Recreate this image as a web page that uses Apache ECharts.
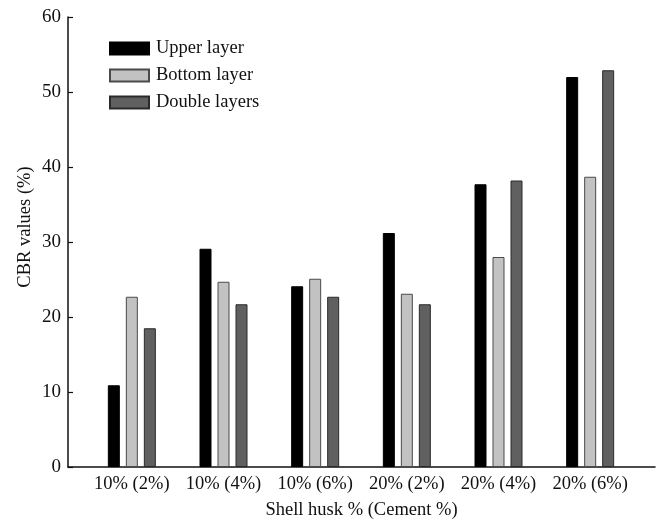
<!DOCTYPE html>
<html>
<head>
<meta charset="utf-8">
<script src="https://cdn.jsdelivr.net/npm/echarts@6/dist/echarts.min.js"></script>
<style>html,body{margin:0;padding:0;background:#fff}#chart{width:657px;height:520px}</style>
</head>
<body>
<div id="chart"></div>
<script>
var categories = ['10% (2%)', '10% (4%)', '10% (6%)', '20% (2%)', '20% (4%)', '20% (6%)'];
var seriesNames = ['Upper layer', 'Bottom layer', 'Double layers'];
var upperLayer = [10.9, 29.1, 24.1, 31.2, 37.7, 52.0];
var bottomLayer = [22.7, 24.7, 25.1, 23.1, 28.0, 38.7];
var doubleLayers = [18.5, 21.7, 22.7, 21.7, 38.2, 52.9];
var yTicks = [0, 10, 20, 30, 40, 50, 60];

var FONT = '"Liberation Serif", "DejaVu Serif", serif';
var chart = echarts.init(document.getElementById('chart'), null, {renderer: 'canvas'});
function barSeries(name, data, color, border) {
  return {
    name: name, type: 'bar', xAxisIndex: 1, yAxisIndex: 1,
    data: data, barWidth: 12, barGap: '50%',
    itemStyle: {color: color, borderColor: border, borderWidth: 1}
  };
}
chart.setOption({
  animation: false,
  backgroundColor: '#fff',
  textStyle: {fontFamily: FONT},
  grid: [
    {left: 68, right: 2, top: 17, bottom: 53, containLabel: false, outerBoundsMode: 'none'},
    {left: 86, right: 21, top: 17, bottom: 53, containLabel: false, outerBoundsMode: 'none'}
  ],
  legend: {
    orient: 'vertical', left: 109, top: 39, padding: 0,
    itemWidth: 39, itemHeight: 12, itemGap: 8,
    icon: 'rect',
    data: seriesNames,
    textStyle: {fontFamily: FONT, fontSize: 18.5, lineHeight: 18, color: '#111', padding: [0, 0, 0, 2]}
  },
  xAxis: [
    {
      gridIndex: 0, type: 'value', min: 0, max: 1,
      axisLine: {show: true, lineStyle: {color: '#111', width: 1.5}},
      axisTick: {show: false}, axisLabel: {show: false}, splitLine: {show: false},
      name: 'Shell husk % (Cement %)', nameLocation: 'middle', nameGap: 34, nameMoveOverlap: false,
      nameTextStyle: {fontFamily: FONT, fontSize: 18.5, color: '#111'}
    },
    {
      gridIndex: 1, type: 'category', data: categories,
      axisLine: {show: false}, axisTick: {show: false},
      axisLabel: {interval: 0, hideOverlap: false, fontFamily: FONT, fontSize: 18.5, color: '#111', margin: 8}
    }
  ],
  yAxis: [
    {
      gridIndex: 0, type: 'value', min: yTicks[0], max: yTicks[yTicks.length - 1], interval: 10,
      axisLine: {show: true, lineStyle: {color: '#111', width: 1.5}},
      axisTick: {show: true, inside: true, length: 5, lineStyle: {color: '#111', width: 1.2}},
      axisLabel: {fontFamily: FONT, fontSize: 19, color: '#111', margin: 7},
      splitLine: {show: false},
      name: 'CBR values (%)', nameLocation: 'middle', nameGap: 33, nameMoveOverlap: false,
      nameTextStyle: {fontFamily: FONT, fontSize: 18.5, color: '#111', padding: [0, 0, 0, 30]}
    },
    {
      gridIndex: 1, type: 'value', min: yTicks[0], max: yTicks[yTicks.length - 1], interval: 10,
      show: false, splitLine: {show: false}
    }
  ],
  series: [
    barSeries(seriesNames[0], upperLayer, '#000000', '#000000'),
    barSeries(seriesNames[1], bottomLayer, '#c2c2c2', '#4a4a4a'),
    barSeries(seriesNames[2], doubleLayers, '#606060', '#2a2a2a')
  ]
});
</script>
</body>
</html>
